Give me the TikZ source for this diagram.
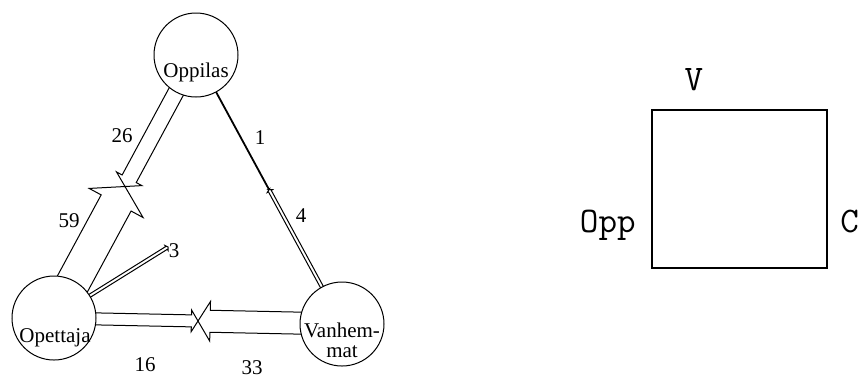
\documentclass[tikz,border=0pt]{standalone}
\usepackage{fontspec}
\setmainfont{Liberation Serif}
\usetikzlibrary{calc,backgrounds}

% outlined broad arrow from node #1 to tip #2, half shaft width #3
\newcommand\flow[3]{%
  \draw[flowline]
    ($(#1)!#3!90:(#2)$) --
    ($(#2)!1.1*#3!(#1)!#3!-90:(#1)$) --
    ($(#2)!1.1*#3!(#1)!1.8*#3!-90:(#1)$) --
    (#2) --
    ($(#2)!1.1*#3!(#1)!1.8*#3!90:(#1)$) --
    ($(#2)!1.1*#3!(#1)!#3!90:(#1)$) --
    ($(#1)!#3!-90:(#2)$);}

\begin{document}
\begin{tikzpicture}[x=0.5pt,y=-0.5pt,
  party/.style={circle,draw,fill=white,minimum size=42pt,inner sep=0pt,
                line width=0.5pt},
  partytext/.style={font=\fontsize{10.5}{10}\selectfont,inner sep=0pt,
                    align=center},
  num/.style={font=\fontsize{10.5}{10}\selectfont,inner sep=1pt},
  flowline/.style={line width=0.5pt,line join=miter},
  frame/.style={draw,line width=0.9pt,minimum width=87.5pt,
                minimum height=79pt,inner sep=0pt},
  letter/.style={font=\ttfamily\fontsize{18}{18}\selectfont,inner sep=0pt}]
\useasboundingbox (0,0) rectangle (861,377);
% the three parties
\node[party] (opl) at (196,55) {};
\node[party] (opet) at (54,318) {};
\node[party] (van) at (342,324) {};
\node[partytext,anchor=base] (opl-t) at ($(opl)+(0,22)$) {Oppilas};
\node[partytext,anchor=base] (opet-t) at ($(opet)+(1,24)$) {Opettaja};
\node[partytext] (van-t) at ($(van)+(0,16)$) {Vanhem-\\mat};
% flows, meeting half way
\coordinate (m1) at ($(opl)!0.5!(opet)$);
\coordinate (m2) at ($(opl)!0.5!(van)$);
\coordinate (m3) at ($(opet)!0.5!(van)$);
\coordinate (t3) at ($(opet)+(114,-71)$);
\begin{scope}[on background layer]
\flow{opl}{m1}{4pt}
\flow{opet}{m1}{8.5pt}
\flow{opl}{m2}{0.2pt}
\flow{van}{m2}{0.8pt}
\flow{opet}{m3}{3pt}
\flow{van}{m3}{5.5pt}
\flow{opet}{t3}{0.8pt}
\end{scope}
\node[num] (n26) at (122,136) {26};
\node[num] (n59) at (69,221) {59};
\node[num] (n1) at (260,138) {1};
\node[num] (n4) at (301,216) {4};
\node[num] (n3) at ($(t3)+(6,4)$) {3};
\node[num] (n16) at (145,365) {16};
\node[num] (n33) at (252,368) {33};
% the square
\node[frame] (sq) at (739.5,189) {};
\node[letter,anchor=base] (v) at (694,90) {V};
\node[letter,anchor=base east] (opp) at (636,232) {Opp};
\node[letter,anchor=base west] (c) at (840,232) {C};
\end{tikzpicture}
\end{document}
